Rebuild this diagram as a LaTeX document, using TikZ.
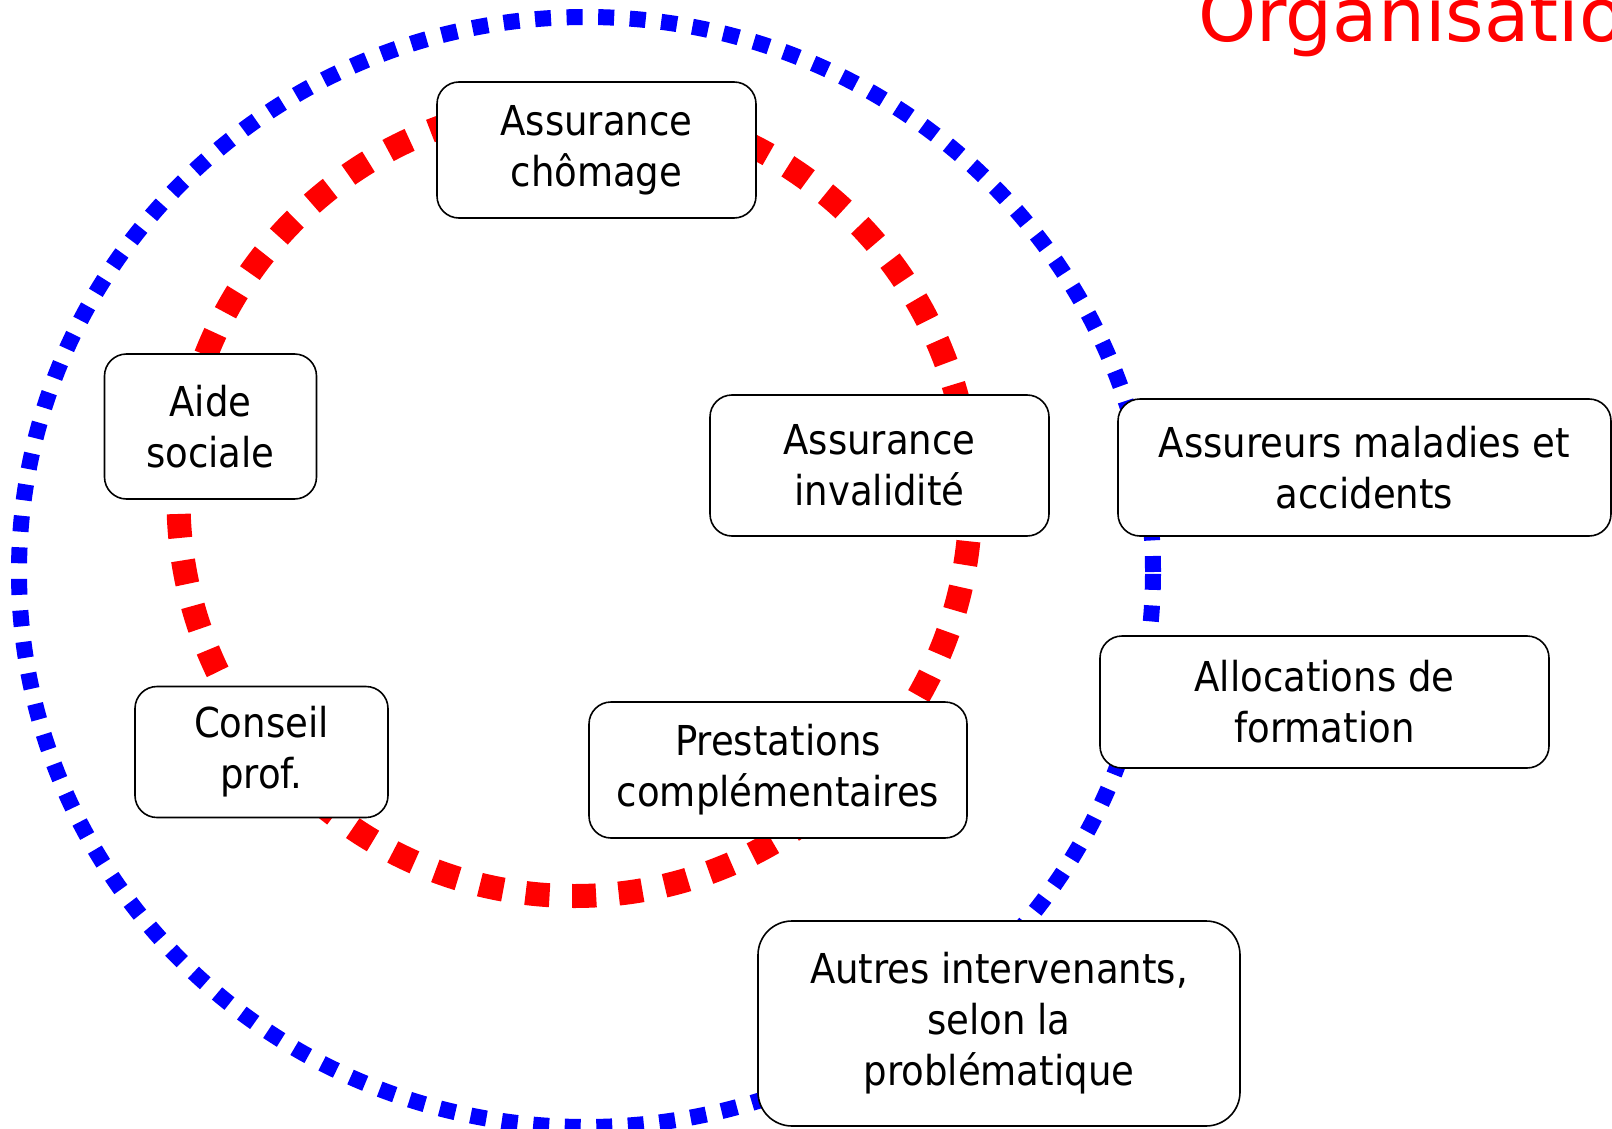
\documentclass[tikz,border=0pt]{standalone}
\usepackage{fontspec}
\setmainfont{DejaVu Sans Condensed}
\newfontfamily\titlefont{DejaVu Sans}
\usepackage{xcolor}
\usepackage{tikz}
\tikzset{box/.style={draw=black,fill=white,rounded corners=11pt,line width=0.8pt,align=center,inner sep=0pt,font=\fontsize{20.6}{25.5}\selectfont}}

\begin{document}
\begin{tikzpicture}[x=0.5pt, y=-0.5pt]
\tikzstyle{ring}=[line cap=butt]
\useasboundingbox (0,0) rectangle (1612,1129);
    % outer ring
    \draw[ring, blue, line width=8pt, dash pattern=on 8pt off 7.8pt] (586,572) ellipse [x radius=283.5pt, y radius=277.5pt];
    % inner ring
    \draw[ring, red, line width=12pt, dash pattern=on 12pt off 11.3pt] (574.5,500) circle [radius=198pt];
    \node[box, minimum width=159.5pt, minimum height=68pt] (chomage) at (596.5,150) {Assurance\\chômage};
    \node[box, minimum width=106pt, minimum height=72.5pt] (aide) at (210.5,426.5) {Aide\\sociale};
    \node[box, minimum width=169.5pt, minimum height=70.5pt] (invalidite) at (879.5,465.5) {Assurance\\invalidité};
    \node[box, minimum width=126.5pt, minimum height=65.5pt] (conseil) at (261.5,752) {Conseil\\prof.};
    \node[box, minimum width=189pt, minimum height=68pt] (prestations) at (778,770) {Prestations\\complémentaires};
    \node[box, minimum width=246.5pt, minimum height=68.5pt] (assureurs) at (1364.5,467.5) {Assureurs maladies et\\accidents};
    \node[box, minimum width=224.5pt, minimum height=66pt] (allocations) at (1324.5,702) {Allocations de\\formation};
    \node[box, rounded corners=17pt, minimum width=241pt, minimum height=102.5pt] (autres) at (999,1023.5) {Autres intervenants,\\selon la\\problématique};
    \node[anchor=base west, text=red, inner sep=0pt, font=\titlefont\fontsize{37}{40}\selectfont] (titre) at (1198,42) {Organisation};
\end{tikzpicture}
\end{document}
